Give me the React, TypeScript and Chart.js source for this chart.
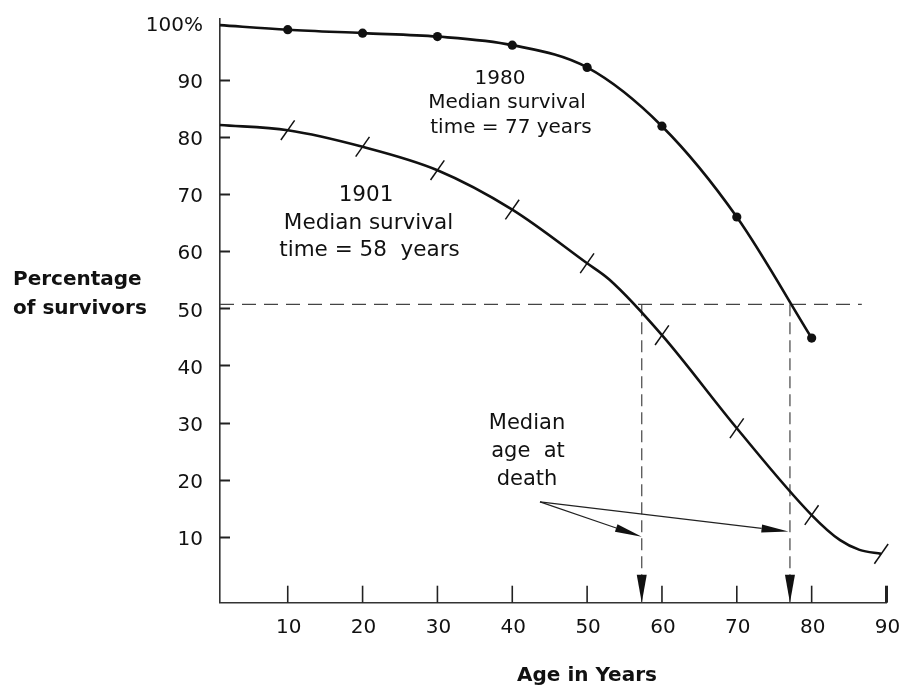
import React, { useEffect, useRef } from "react";
import { Chart, registerables } from "chart.js";

Chart.register(...registerables);

// ---- data ----
const ages1980 = [0.95, 10, 20, 30, 40, 50, 60, 70, 80];
const pct1980 = [99.6, 98.8, 98.2, 97.6, 96.1, 92.2, 81.9, 66.0, 44.8];
const markIdx1980 = [1, 2, 3, 4, 5, 6, 7, 8];

const ages1901 = [0.95, 10, 20, 30, 40, 50, 53, 60, 70, 80, 83.8, 86.4, 89.3];
const pct1901 = [82.1, 81.2, 78.3, 74.2, 67.3, 57.9, 55.0, 45.3, 29.0, 13.8, 9.4, 7.7, 7.0];
const markIdx1901 = [1, 2, 3, 4, 5, 7, 8, 9, 12];

const xTickValues = [10, 20, 30, 40, 50, 60, 70, 80, 90];
const yTickValues = [10, 20, 30, 40, 50, 60, 70, 80, 90, 100];
const yTickLabels = ["10", "20", "30", "40", "50", "60", "70", "80", "90", "100%"];

const medianPct = 50.7;
const medianAge1901 = 57.3;
const medianAge1980 = 77.1;
const guideEndAge = 86.7;

const arrowFrom = { x: 43.7, y: 16.1 };
const arrowTo1901 = { x: 57.3, y: 10.0 };
const arrowTo1980 = { x: 76.9, y: 10.9 };

const X_MIN = 0.95;
const X_MAX = 90;
const Y_MIN = -1.55;
const Y_MAX = 100.8;

const FONT = '"DejaVu Sans", sans-serif';
const INK = "#111";

function drawArrow(ctx: CanvasRenderingContext2D, x1: number, y1: number, x2: number, y2: number) {
  const dx = x2 - x1;
  const dy = y2 - y1;
  const len = Math.hypot(dx, dy);
  const ux = dx / len;
  const uy = dy / len;
  const head = 27;
  const hw = 4;
  const bx = x2 - ux * head;
  const by = y2 - uy * head;
  ctx.beginPath();
  ctx.moveTo(x1, y1);
  ctx.lineTo(bx, by);
  ctx.stroke();
  ctx.beginPath();
  ctx.moveTo(x2, y2);
  ctx.lineTo(bx - uy * hw, by + ux * hw);
  ctx.lineTo(bx + uy * hw, by - ux * hw);
  ctx.closePath();
  ctx.fill();
}

const annotatePlugin = {
  id: "annotate",
  afterDraw(chart: any) {
    const { ctx, chartArea } = chart;
    const xs = chart.scales.x;
    const ys = chart.scales.y;
    ctx.save();
    ctx.strokeStyle = "#222";
    ctx.fillStyle = "#111";
    ctx.lineCap = "butt";

    // y axis tick marks (inward)
    ctx.lineWidth = 2;
    yTickValues.forEach((v) => {
      if (v >= 100) return;
      const py = Math.round(ys.getPixelForValue(v)) + 0.5;
      ctx.beginPath();
      ctx.moveTo(chartArea.left, py);
      ctx.lineTo(chartArea.left + 10, py);
      ctx.stroke();
    });
    // x axis tick marks (upward)
    xTickValues.forEach((v, i) => {
      const px = xs.getPixelForValue(v);
      ctx.lineWidth = i === xTickValues.length - 1 ? 3 : 1.6;
      ctx.beginPath();
      ctx.moveTo(px, chartArea.bottom);
      ctx.lineTo(px, chartArea.bottom - 17);
      ctx.stroke();
    });

    // down arrowheads on the median guides
    [medianAge1901, medianAge1980].forEach((a) => {
      const px = xs.getPixelForValue(a);
      ctx.beginPath();
      ctx.moveTo(px, chartArea.bottom);
      ctx.lineTo(px - 5, chartArea.bottom - 28);
      ctx.lineTo(px + 5, chartArea.bottom - 28);
      ctx.closePath();
      ctx.fill();
    });

    // slanted arrows from "death"
    ctx.lineWidth = 1.2;
    const fx = xs.getPixelForValue(arrowFrom.x);
    const fy = ys.getPixelForValue(arrowFrom.y);
    drawArrow(ctx, fx, fy, xs.getPixelForValue(arrowTo1901.x), ys.getPixelForValue(arrowTo1901.y));
    drawArrow(ctx, fx, fy, xs.getPixelForValue(arrowTo1980.x), ys.getPixelForValue(arrowTo1980.y));

    // texts
    ctx.fillStyle = INK;
    ctx.textBaseline = "middle";
    ctx.textAlign = "center";

    ctx.font = `20px ${FONT}`;
    ctx.fillText("1980", 500, 79);
    ctx.fillText("Median survival", 507, 103);
    ctx.fillText("time = 77 years", 511, 127.5);

    ctx.font = `21.5px ${FONT}`;
    ctx.fillText("1901", 366, 195);
    ctx.fillText("Median survival", 368.5, 223);
    ctx.fillText("time = 58  years", 369.5, 250);

    ctx.font = `21px ${FONT}`;
    ctx.fillText("Median", 527, 424);
    ctx.fillText("age  at", 528, 452);
    ctx.fillText("death", 527, 479.5);

    ctx.font = `bold 20px ${FONT}`;
    ctx.fillText("Age in Years", 587, 676);
    ctx.textAlign = "left";
    ctx.fillText("Percentage", 13, 280);
    ctx.fillText("of survivors", 13, 309);

    ctx.restore();
  },
};

export default function App() {
  const ref = useRef<HTMLCanvasElement | null>(null);

  useEffect(() => {
    document.body.style.margin = "0";
    const canvas = ref.current;
    if (!canvas) return;

    const curve1980 = ages1980.map((a, i) => ({ x: a, y: pct1980[i] }));
    const curve1901 = ages1901.map((a, i) => ({ x: a, y: pct1901[i] }));
    const dots1980 = markIdx1980.map((i) => ({ x: ages1980[i], y: pct1980[i] }));
    const ticks1901 = markIdx1901.map((i) => ({ x: ages1901[i], y: pct1901[i] }));

    const dashCommon = {
      type: "line" as const,
      borderColor: "#444",
      borderWidth: 1.2,
      pointRadius: 0,
      fill: false,
      clip: false as any,
    };

    const chart = new Chart(canvas, {
      type: "line",
      data: {
        datasets: [
          {
            label: "1980",
            data: curve1980,
            borderColor: INK,
            borderWidth: 2.6,
            pointRadius: 0,
            cubicInterpolationMode: "monotone",
            fill: false,
            clip: false as any,
          },
          {
            label: "1980 points",
            data: dots1980,
            showLine: false,
            pointStyle: "circle",
            pointRadius: 4.6,
            pointBackgroundColor: INK,
            pointBorderColor: INK,
            pointBorderWidth: 0,
            clip: false as any,
          },
          {
            label: "1901",
            data: curve1901,
            borderColor: INK,
            borderWidth: 2.6,
            pointRadius: 0,
            cubicInterpolationMode: "monotone",
            fill: false,
            clip: false as any,
          },
          {
            label: "1901 marks",
            data: ticks1901,
            showLine: false,
            pointStyle: "line",
            rotation: -55,
            pointRadius: 12,
            pointBorderColor: INK,
            pointBorderWidth: 1.5,
            clip: false as any,
          },
          {
            ...dashCommon,
            label: "50% guide",
            data: [
              { x: X_MIN, y: medianPct },
              { x: guideEndAge, y: medianPct },
            ],
            borderDash: [14, 8],
          },
          {
            ...dashCommon,
            label: "1901 median",
            data: [
              { x: medianAge1901, y: medianPct },
              { x: medianAge1901, y: Y_MIN },
            ],
            borderDash: [12, 6],
          },
          {
            ...dashCommon,
            label: "1980 median",
            data: [
              { x: medianAge1980, y: medianPct },
              { x: medianAge1980, y: Y_MIN },
            ],
            borderDash: [12, 6],
          },
        ] as any,
      },
      options: {
        animation: false,
        responsive: false,
        devicePixelRatio: 1,
        events: [],
        layout: { padding: { top: 18.3, right: 13.3, bottom: 0, left: 0 } },
        plugins: {
          legend: { display: false },
          tooltip: { enabled: false },
          title: { display: false },
        },
        scales: {
          x: {
            type: "linear",
            min: X_MIN,
            max: X_MAX,
            grid: { display: false, drawTicks: false },
            border: { display: true, color: "#333", width: 1.6 },
            afterBuildTicks: (axis: any) => {
              axis.ticks = xTickValues.map((v) => ({ value: v }));
            },
            afterFit: (scale: any) => {
              scale.height = 82.3;
              scale.paddingLeft = 0;
              scale.paddingRight = 0;
            },
            ticks: {
              autoSkip: false,
              maxRotation: 0,
              padding: 13,
              labelOffset: 1,
              color: INK,
              font: { family: FONT, size: 20 },
              callback: (v: any) => String(v),
            },
          },
          y: {
            type: "linear",
            min: Y_MIN,
            max: Y_MAX,
            grid: { display: false, drawTicks: false },
            border: { display: true, color: "#333", width: 1.6 },
            afterBuildTicks: (axis: any) => {
              axis.ticks = yTickValues.map((v) => ({ value: v }));
            },
            afterFit: (scale: any) => {
              scale.width = 220;
              scale.paddingTop = 0;
              scale.paddingBottom = 0;
            },
            ticks: {
              autoSkip: false,
              padding: 17,
              labelOffset: 3,
              color: INK,
              font: { family: FONT, size: 20 },
              callback: (v: any) => {
                const i = yTickValues.indexOf(Number(v));
                return i >= 0 ? yTickLabels[i] : "";
              },
            },
          },
        },
      },
      plugins: [annotatePlugin],
    } as any);

    return () => chart.destroy();
  }, []);

  return (
    <div style={{ width: 900, height: 685, background: "#fff" }}>
      <canvas ref={ref} width={900} height={685} style={{ display: "block" }} />
    </div>
  );
}
